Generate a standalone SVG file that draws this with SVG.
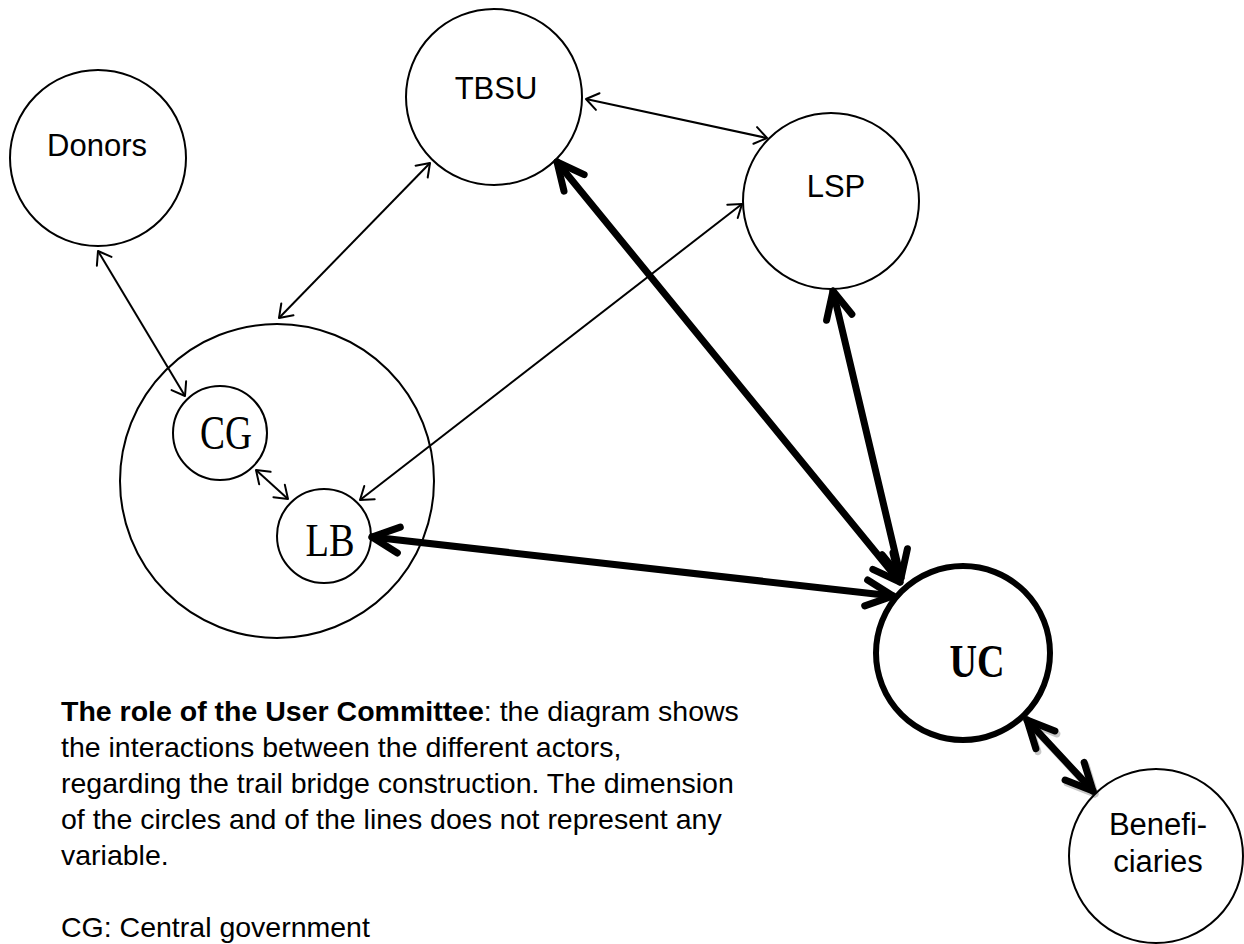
<svg xmlns="http://www.w3.org/2000/svg" width="1244" height="944" viewBox="0 0 1244 944">
<style>
.n{fill:none;stroke:#000;stroke-width:2}
.lbl{font-family:"Liberation Sans",Arial,sans-serif;font-size:31px;fill:#000;text-anchor:middle}
.ser{font-family:"Liberation Serif","Times New Roman",serif;fill:#000;text-anchor:middle}
.thin{stroke:#000;stroke-width:2;fill:none;marker-start:url(#ah);marker-end:url(#ah)}
.thick{stroke:#000;stroke-width:7;fill:none;stroke-linecap:round;marker-start:url(#ahb);marker-end:url(#ahb)}
.desc{font-family:"Liberation Sans",Arial,sans-serif;font-size:28.5px;fill:#000}
</style>
<defs>
<marker id="ah" markerUnits="userSpaceOnUse" viewBox="-16 -10 20 20" refX="0" refY="0" markerWidth="20" markerHeight="20" orient="auto-start-reverse" overflow="visible">
<path d="M-12,-8.5 L0,0 L-12,8.5" fill="none" stroke="#000" stroke-width="2" stroke-linecap="round" stroke-linejoin="round"/>
</marker>
<marker id="ahb" markerUnits="userSpaceOnUse" viewBox="-32 -18 36 36" refX="0" refY="0" markerWidth="36" markerHeight="36" orient="auto-start-reverse" overflow="visible">
<path d="M-27,-13 L0,0 L-27,13" fill="none" stroke="#000" stroke-width="7" stroke-linecap="round" stroke-linejoin="round"/>
</marker>
<marker id="ahg" markerUnits="userSpaceOnUse" viewBox="-32 -18 36 36" refX="0" refY="0" markerWidth="36" markerHeight="36" orient="auto-start-reverse" overflow="visible">
<path d="M-27,-13 L0,0 L-27,13" fill="none" stroke="#c8c8c8" stroke-width="7" stroke-linecap="round" stroke-linejoin="round"/>
</marker>
</defs>
<rect width="1244" height="944" fill="#fff"/>

<g id="connectors">
<line class="thin" x1="98" y1="251" x2="185" y2="396"/>
<line class="thin" x1="256" y1="470" x2="288" y2="499"/>
<line class="thin" x1="279" y1="318" x2="430" y2="163"/>
<line class="thin" x1="360" y1="500" x2="742" y2="204"/>
<line class="thin" x1="586" y1="99" x2="767" y2="138"/>
<line class="thick" x1="557" y1="162" x2="900" y2="582"/>
<line class="thick" x1="833" y1="291" x2="901" y2="578"/>
<line class="thick" x1="372" y1="537" x2="893" y2="596"/>
<line x1="1029" y1="723" x2="1095" y2="794" stroke="#c8c8c8" stroke-width="7" stroke-linecap="round" marker-start="url(#ahg)" marker-end="url(#ahg)"/>
<line class="thick" x1="1027" y1="720" x2="1093" y2="791"/>
</g>

<g id="donors"><circle class="n" cx="98" cy="158" r="88"/><text class="lbl" x="97" y="156">Donors</text></g>
<g id="tbsu"><circle class="n" cx="494" cy="97" r="88"/><text class="lbl" x="496" y="99">TBSU</text></g>
<g id="lsp"><circle class="n" cx="831" cy="201" r="88"/><text class="lbl" x="836" y="197">LSP</text></g>
<g id="gov"><circle class="n" cx="277" cy="481" r="157"/></g>
<g id="cg"><circle class="n" cx="220" cy="433" r="47"/><text class="ser" x="226" y="449" font-size="48" textLength="52" lengthAdjust="spacingAndGlyphs">CG</text></g>
<g id="lb"><circle class="n" cx="324" cy="536" r="47"/><text class="ser" x="330" y="556" font-size="46" textLength="49" lengthAdjust="spacingAndGlyphs">LB</text></g>
<g id="uc"><circle fill="#fff" stroke="#000" stroke-width="6" cx="963" cy="653" r="87"/><text class="ser" x="977" y="677" font-size="46" font-weight="bold" textLength="55" lengthAdjust="spacingAndGlyphs">UC</text></g>
<g id="beneficiaries"><circle class="n" cx="1156" cy="856" r="87"/><text class="lbl" x="1158" y="835">Benefi-</text><text class="lbl" x="1158" y="872">ciaries</text></g>

<g id="description">
<text class="desc" x="61" y="721"><tspan font-weight="bold">The role of the User Committee</tspan>: the diagram shows</text>
<text class="desc" x="61" y="757">the interactions between the different actors,</text>
<text class="desc" x="61" y="793">regarding the trail bridge construction. The dimension</text>
<text class="desc" x="61" y="829">of the circles and of the lines does not represent any</text>
<text class="desc" x="61" y="865">variable.</text>
<text class="desc" x="61" y="937">CG: Central government</text>
</g>
</svg>
